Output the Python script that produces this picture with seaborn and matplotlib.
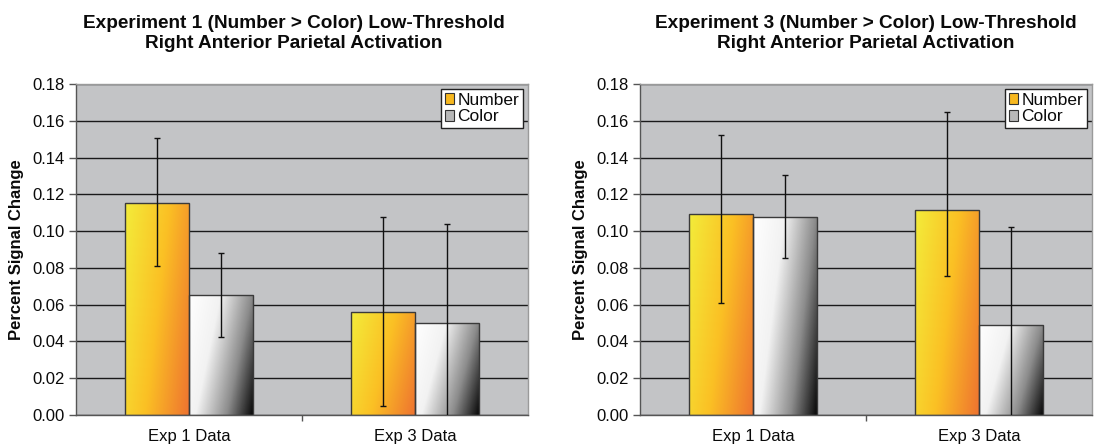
import numpy as np
import pandas as pd
import matplotlib
matplotlib.use("Agg")
import matplotlib.pyplot as plt
from matplotlib.colors import LinearSegmentedColormap
from matplotlib.patches import Patch
import seaborn as sns

# ---------------- data ----------------
groups = ["Exp 1 Data", "Exp 3 Data"]
series = ["Number", "Color"]

titles = [
    "Experiment 1 (Number > Color) Low-Threshold\nRight Anterior Parietal Activation",
    "Experiment 3 (Number > Color) Low-Threshold\nRight Anterior Parietal Activation",
]

# panel 1 (Experiment 1)
p1_number = [0.1155, 0.0560]
p1_number_lo = [0.0810, 0.0050]
p1_number_hi = [0.1505, 0.1078]
p1_color = [0.0650, 0.0502]
p1_color_lo = [0.0426, -0.0035]
p1_color_hi = [0.0879, 0.1039]

# panel 2 (Experiment 3)
p2_number = [0.1093, 0.1115]
p2_number_lo = [0.0611, 0.0756]
p2_number_hi = [0.1523, 0.1649]
p2_color = [0.1078, 0.0488]
p2_color_lo = [0.0852, -0.0040]
p2_color_hi = [0.1305, 0.1024]

yticks = [0.00, 0.02, 0.04, 0.06, 0.08, 0.10, 0.12, 0.14, 0.16, 0.18]
ylabel = "Percent Signal Change"

panels = [
    (p1_number, p1_number_lo, p1_number_hi, p1_color, p1_color_lo, p1_color_hi),
    (p2_number, p2_number_lo, p2_number_hi, p2_color, p2_color_lo, p2_color_hi),
]

# ---------------- style ----------------
sns.set_theme(style="white")
plt.rcParams["font.family"] = ["Liberation Sans", "DejaVu Sans"]

BG = "#C3C4C6"
TXT = "#0A0A0A"
num_cmap = LinearSegmentedColormap.from_list(
    "num", [(0, "#F3EC3A"), (0.5, "#FBC024"), (1.0, "#EE7230")])
col_cmap = LinearSegmentedColormap.from_list(
    "col", [(0, "#FFFFFF"), (0.35, "#F2F2F2"), (0.7, "#8C8C8C"), (1.0, "#050505")])

fig = plt.figure(figsize=(10.94, 4.44), dpi=100)
ax_pos = [
    [76 / 1094, 29 / 444, 452 / 1094, 331 / 444],
    [640 / 1094, 29 / 444, 452 / 1094, 331 / 444],
]
title_x = [0.482, 0.50]


def gradient_fill(ax, patch, cmap):
    x0, y0 = patch.get_x(), patch.get_y()
    w, h = patch.get_width(), patch.get_height()
    u = np.linspace(0, 1, 80)
    v = np.linspace(1, 0, 160)
    U, V = np.meshgrid(u, v)
    T = 0.72 * U + 0.28 * (1 - V)
    im = ax.imshow(T, cmap=cmap, extent=[x0, x0 + w, y0, y0 + h], origin="upper",
                   aspect="auto", zorder=0.9, interpolation="bilinear", vmin=0, vmax=1)
    im.set_clip_path(patch)
    patch.set_facecolor("none")
    patch.set_zorder(1)


for i, (nv, nlo, nhi, cv, clo, chi) in enumerate(panels):
    ax = fig.add_axes(ax_pos[i])
    df = pd.DataFrame({
        "group": groups * 2,
        "series": [series[0]] * 2 + [series[1]] * 2,
        "value": list(nv) + list(cv),
    })
    sns.barplot(data=df, x="group", y="value", hue="series", order=groups,
                hue_order=series, palette=["#F7B81F", "#B0B0B0"], width=0.57,
                errorbar=None, legend=False, edgecolor="#3A3A3A", linewidth=1.0,
                ax=ax)
    lows = [nlo, clo]
    highs = [nhi, chi]
    vals = [nv, cv]
    cmaps = [num_cmap, col_cmap]
    bar_conts = list(ax.containers)
    for k, cont in enumerate(bar_conts):
        xs = []
        for patch in cont.patches:
            gradient_fill(ax, patch, cmaps[k])
            xs.append(patch.get_x() + patch.get_width() / 2)
        v = np.array(vals[k])
        err = np.vstack([v - np.array(lows[k]), np.array(highs[k]) - v])
        ax.errorbar(xs, v, yerr=err, fmt="none", ecolor="#111111", elinewidth=1.0,
                    capsize=2, capthick=1.0, zorder=3)

    ax.set_facecolor(BG)
    ax.set_xlim(-0.5, 1.5)
    ax.set_ylim(0, 0.18)
    ax.set_yticks(yticks)
    ax.set_yticklabels([f"{t:.2f}" for t in yticks])
    ax.set_axisbelow(True)
    ax.yaxis.grid(True, color="#1A1A1A", linewidth=1.0)
    ax.xaxis.grid(False)
    ax.set_xticks([0, 1])
    ax.set_xticklabels(groups)
    ax.set_xticks([0.5], minor=True)
    ax.tick_params(axis="x", which="major", length=0, pad=10, labelsize=12,
                   colors=TXT)
    ax.tick_params(axis="x", which="minor", length=4, width=1, color="#555555",
                   direction="out", bottom=True)
    ax.tick_params(axis="y", length=5, width=1, color="#555555", direction="out",
                   left=True, labelsize=12, pad=3, labelcolor=TXT)
    ax.set_xlabel("")
    ax.set_ylabel(ylabel, fontsize=12, fontweight="bold", labelpad=6, color=TXT)
    for side in ["left", "bottom"]:
        ax.spines[side].set_color("#555555")
        ax.spines[side].set_linewidth(1.0)
    for side in ["top", "right"]:
        ax.spines[side].set_color("#9A9A9A")
        ax.spines[side].set_linewidth(1.0)
    ax.set_title(titles[i], fontsize=13.7, fontweight="bold", pad=26, x=title_x[i],
                 color=TXT, linespacing=1.2)

    handles = [Patch(facecolor="#F7B81F", edgecolor="#333333", linewidth=0.8),
               Patch(facecolor="#B8B8B8", edgecolor="#333333", linewidth=0.8)]
    leg = ax.legend(handles, series, loc="upper right", frameon=True,
                    fancybox=False, edgecolor="#222222", framealpha=1,
                    fontsize=12.5, borderpad=0.2, handlelength=0.55,
                    handleheight=0.55, handletextpad=0.2, labelspacing=0.1,
                    borderaxespad=0.3)
    leg.get_frame().set_linewidth(1.0)
    for t in leg.get_texts():
        t.set_color(TXT)
    leg.set_zorder(5)

fig.savefig("out.png", dpi=100, facecolor="white")
